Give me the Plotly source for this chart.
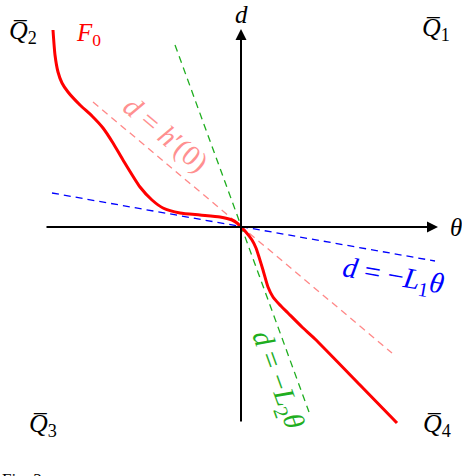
import plotly.graph_objects as go

# -----------------------------
# Data (theta, d), origin at the axes crossing
# -----------------------------

f0_theta = [-188, -186, -183, -179, -173, -161, -149, -138, -128, -118, -101, -89, -78, -61, -41, -21, -9, -4, 0,
            4, 11, 15, 18, 22, 27, 32, 38, 47, 61, 74, 119, 156]
f0_d = [197, 172, 155, 144, 135, 122, 111, 99, 84, 67, 40, 27, 19, 14, 12, 10, 7, 4, 0,
        -4, -13, -21, -30, -43, -60, -70, -77, -86, -100, -112, -158, -196]

# tangent / bound lines, end points
l1_theta = [-189, 194]
l1_d = [34, -34]
l2_theta = [-66, 68]
l2_d = [182, -185]
h0_theta = [-148, 151]
h0_d = [125, -126]

# axes extent
theta_axis = [-196, 197]
d_axis = [-196, 198]

SERIF = '"Liberation Serif", "DejaVu Serif", serif'

fig = go.Figure()

fig.add_trace(go.Scatter(x=l1_theta, y=l1_d, mode="lines",
                         line=dict(color="#0000ff", width=1.3, dash="7px,5px")))
fig.add_trace(go.Scatter(x=l2_theta, y=l2_d, mode="lines",
                         line=dict(color="#1fae1f", width=1.3, dash="7px,5px")))
fig.add_trace(go.Scatter(x=h0_theta, y=h0_d, mode="lines",
                         line=dict(color="#ff8888", width=1.3, dash="7px,5px")))
fig.add_trace(go.Scatter(x=f0_theta, y=f0_d, mode="lines",
                         line=dict(color="#ff0000", width=3, shape="spline", smoothing=0.6)))

# axes with arrow heads
fig.add_annotation(x=theta_axis[1], y=0, ax=theta_axis[0], ay=0,
                   xref="x", yref="y", axref="x", ayref="y",
                   showarrow=True, arrowhead=2, arrowsize=1.1, arrowwidth=2,
                   arrowcolor="black", text="")
fig.add_annotation(x=0, y=d_axis[1], ax=0, ay=d_axis[0],
                   xref="x", yref="y", axref="x", ayref="y",
                   showarrow=True, arrowhead=2, arrowsize=1.1, arrowwidth=2,
                   arrowcolor="black", text="")

labels = [
    # text, theta, d, colour, angle, size
    ("<i>θ</i>", 215, 0, "black", 0, 25),
    ("<i>d</i>", 0, 213, "black", 0, 25),
    ("<i>F</i><sub>0</sub>", -153, 193, "#ff0000", 0, 25),
    ("<i>Q\u0305</i><sub>2</sub>", -218, 195, "black", 0, 26),
    ("<i>Q\u0305</i><sub>1</sub>", 195, 198, "black", 0, 26),
    ("<i>Q\u0305</i><sub>3</sub>", -198, -198, "black", 0, 26),
    ("<i>Q\u0305</i><sub>4</sub>", 196, -198, "black", 0, 26),
    ("<i>d</i> = <i>h</i>′(0)", -75, 93, "#ff9090", 40, 29),
    ("<i>d</i> = −<i>L</i><sub>1</sub><i>θ</i>", 152, -50, "#0000ff", 10, 29),
    ("<i>d</i> = −<i>L</i><sub>2</sub><i>θ</i>", 36, -153, "#1fae1f", 70, 29),
]

for text, tx, ty, color, angle, size in labels:
    fig.add_annotation(x=tx, y=ty, xref="x", yref="y", text=text,
                       showarrow=False, textangle=angle,
                       font=dict(family=SERIF, size=size, color=color))

fig.add_annotation(x=-241, y=-241, xref="x", yref="y", text="Fig. 3.",
                   xanchor="left", yanchor="top", showarrow=False,
                   font=dict(family=SERIF, size=17, color="black"))

fig.update_layout(
    width=462,
    height=476,
    margin=dict(l=0, r=0, t=0, b=0),
    showlegend=False,
    plot_bgcolor="white",
    paper_bgcolor="white",
    font=dict(family=SERIF),
    xaxis=dict(range=[-241, 221], visible=False, fixedrange=True),
    yaxis=dict(range=[-249, 227], visible=False, fixedrange=True),
)

fig.write_html("out.html", config={"displayModeBar": False},
               post_script="document.body.style.margin='0';")
